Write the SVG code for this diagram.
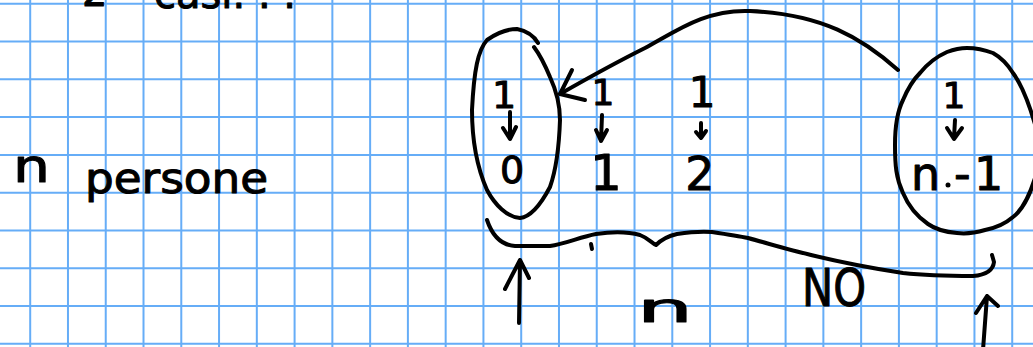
<svg xmlns="http://www.w3.org/2000/svg" width="1033" height="347" viewBox="0 0 1033 347">
<style>
.grid{stroke:#66adf7;stroke-width:2;fill:none}
.ink{stroke:#000;stroke-width:4;fill:none;stroke-linecap:round;stroke-linejoin:round}
.t{font-family:"DejaVu Sans","Liberation Sans",sans-serif;fill:#000;stroke:#000;stroke-width:1;stroke-linejoin:round}
</style>
<rect width="1033" height="347" fill="#fff"/>
<path class="grid" d="M30.2 0V347M67.97 0V347M105.74 0V347M143.51 0V347M181.28 0V347M219.05 0V347M256.82 0V347M294.59 0V347M332.36 0V347M370.13 0V347M407.9 0V347M445.67 0V347M483.44 0V347M521.21 0V347M558.98 0V347M596.75 0V347M634.52 0V347M672.29 0V347M710.06 0V347M747.83 0V347M785.6 0V347M823.37 0V347M861.14 0V347M898.91 0V347M936.68 0V347M974.45 0V347M1012.22 0V347M0 3.8H1033M0 41.57H1033M0 79.34H1033M0 117.11H1033M0 154.88H1033M0 192.65H1033M0 230.42H1033M0 268.19H1033M0 305.96H1033M0 343.73H1033"/>
<g id="top-text">
<text class="t" x="82" y="6" font-size="40">2</text>
<text class="t" x="154" y="8" font-size="40">casi. . .</text>
</g>
<g id="label-n-persone">
<text class="t" x="13" y="182" font-size="46" textLength="37" lengthAdjust="spacingAndGlyphs">n</text>
<text class="t" x="85" y="193" font-size="42" textLength="183" lengthAdjust="spacingAndGlyphs">persone</text>
</g>
<g id="node-0">
<path class="ink" d="M538 43 C534 36 527 31 517 29 C507 29 497 33 487 40 C478 50 474 70 472 110 C472 140 476 165 487 190 C495 205 507 217 520 218 C530 217 540 206 550 187 C556 170 559 150 560 120 C560 105 556 90 550 77 C545 65 540 55 534 47"/>
<text class="t" x="504" y="108" font-size="38" text-anchor="middle">1</text>
<text class="t" x="512" y="183" font-size="38" text-anchor="middle">0</text>
</g>
<g id="node-1">
<text class="t" x="603" y="105" font-size="36" text-anchor="middle">1</text>
<text class="t" x="606" y="190" font-size="50" text-anchor="middle">1</text>
</g>
<g id="node-2">
<text class="t" x="702" y="107" font-size="42" text-anchor="middle">1</text>
<text class="t" x="700" y="190" font-size="46" text-anchor="middle">2</text>
</g>
<g id="node-n-1">
<path class="ink" d="M1013 73 C1022 85 1030 105 1038 135 L1038 168 C1032 190 1025 208 1013 217 C1005 224 995 228 985 230 C975 233 965 234 957 233 C945 232 935 229 928 224 C915 215 908 205 903 193 C896 178 895 165 895 145 C895 125 898 110 903 100 C908 88 913 80 920 73 C928 63 938 56 947 52 C955 49 960 48 967 48 C978 48 985 50 993 53 C1002 58 1008 65 1013 73"/>
<text class="t" x="954" y="108" font-size="36" text-anchor="middle">1</text>
<text class="t" y="190" font-size="46"><tspan x="911">n</tspan><tspan x="954">-</tspan><tspan x="974">1</tspan></text>
<circle cx="948" cy="185" r="2.5" fill="#000"/>
</g>
<g id="connectors">
<path class="ink" d="M898 70 C862 38 822 14 750 11 C705 9 675 32 645 48 C615 63 588 78 560 94"/>
<path class="ink" d="M572 70 L560 94 L585 100"/>
<path class="ink" d="M510 112 L510 138 M503 128 L510 139 L516 127"/>
<path class="ink" d="M602 115 L601 141 M596 130 L601 141 L607 130"/>
<path class="ink" d="M701 123 L701 137 M696 132 L701 138 L706 131"/>
<path class="ink" d="M955 120 L954 138 M947 128 L954 139 L962 128"/>
<path class="ink" d="M487 220 C492 235 500 245 515 246 L550 246 C565 244 580 237 596 234 C610 232 625 231 640 235 C648 238 652 243 656 245 C662 239 668 236 677 234 C690 232 700 231 712 232 C725 234 738 236 748 238 C770 244 790 250 811 255 C840 262 870 268 903 273 C930 276 955 276 973 276 C985 275 993 271 994 262 L992 255"/>
<path class="ink" d="M591 244 L592 249"/>
<path class="ink" d="M519 323 L520 260 M505 289 L520 260 L529 278"/>
<path class="ink" d="M983 350 L987 296 M976 313 L987 296 L998 306"/>
</g>
<g id="label-n-bottom">
<text class="t" x="637" y="322" font-size="40" textLength="56" lengthAdjust="spacingAndGlyphs">n</text>
</g>
<g id="label-NO">
<text class="t" x="802" y="306" font-size="52" textLength="64" lengthAdjust="spacingAndGlyphs">NO</text>
</g>
</svg>
